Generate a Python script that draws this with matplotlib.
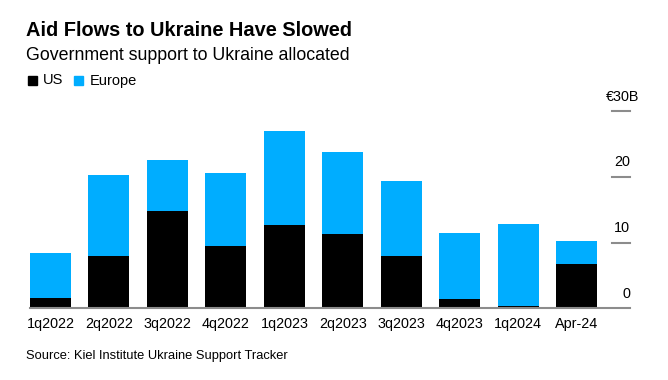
import matplotlib.pyplot as plt
from matplotlib.patches import Rectangle
import numpy as np

plt.rcParams['font.family'] = ['Liberation Sans', 'DejaVu Sans']

# values, billions of euro
quarters = ['1q2022', '2q2022', '3q2022', '4q2022', '1q2023',
            '2q2023', '3q2023', '4q2023', '1q2024', 'Apr-24']
us = [1.5, 7.9, 14.8, 9.4, 12.7, 11.3, 7.9, 1.4, 0.35, 6.7]
total = [8.4, 20.2, 22.6, 20.5, 27.0, 23.7, 19.4, 11.4, 12.8, 10.2]
europe = [t - u for t, u in zip(total, us)]

y_ticks = [0, 10, 20, 30]
y_labels = ['0', '10', '20', '€30B']

black = '#000000'
blue = '#00adff'
gray = '#8c8c8c'

W, H = 668, 380
fig = plt.figure(figsize=(W / 100, H / 100), dpi=100)
ax = fig.add_axes([30 / W, 1 - 308.3 / H, 600 / W, 197.3 / H])

x = np.arange(len(quarters))
ax.bar(x, us, width=0.7, color=black, zorder=2)
ax.bar(x, europe, width=0.7, bottom=us, color=blue, zorder=2)

ax.set_xlim(-0.35, 9.91)
ax.set_ylim(0, 30)

for s in ['top', 'left', 'right']:
    ax.spines[s].set_visible(False)
ax.spines['bottom'].set_color(gray)
ax.spines['bottom'].set_linewidth(1.5)
ax.spines['bottom'].set_zorder(3)

ax.set_xticks(x)
ax.set_xticklabels(quarters, fontsize=10.4)
ax.tick_params(axis='x', length=0, pad=6)
ax.set_yticks([])

# short tick marks on the right with labels above them
trans = ax.get_yaxis_transform()
x0 = (612 - 30) / 600
for v, lab in zip(y_ticks, y_labels):
    if v > 0:
        ax.plot([x0, 1.0], [v, v], color=gray, lw=1.5, transform=trans,
                clip_on=False)
    if lab.startswith('€'):
        ax.text((606 - 30) / 600, v + 2.2, lab, transform=trans, ha='left',
                va='center', fontsize=10.4)
    else:
        ax.text(1.0, v + 2.2, lab, transform=trans, ha='right',
                va='center', fontsize=10.4)

# title, subtitle, legend, source
fig.text(26 / W, 1 - 30 / H, 'Aid Flows to Ukraine Have Slowed',
         fontsize=14.4, fontweight='bold', va='center')
fig.text(26 / W, 1 - 55 / H, 'Government support to Ukraine allocated',
         fontsize=12.8, va='center')

for xs, xt, col, lab in [(28.3, 43.3, black, 'US'), (74, 90, blue, 'Europe')]:
    fig.patches.append(Rectangle((xs / W, 1 - 85 / H), 9 / W, 9 / H,
                                 transform=fig.transFigure, color=col))
    fig.text(xt / W, 1 - 80.5 / H, lab, fontsize=10.5, va='center')

fig.text(26 / W, 1 - 356 / H, 'Source: Kiel Institute Ukraine Support Tracker',
         fontsize=9.3, va='center')

plt.savefig('out.png', dpi=100)
